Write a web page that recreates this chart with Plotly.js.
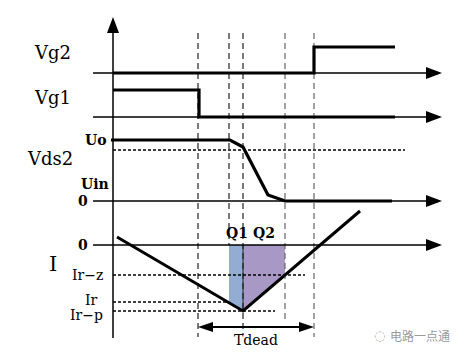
<!DOCTYPE html>
<html><head><meta charset="utf-8">
<script src="https://cdn.plot.ly/plotly-3.0.1.min.js"></script>
<style>html,body{margin:0;padding:0;background:#fff}#plot{width:465px;height:353px}</style>
</head><body><div id="plot"></div>
<script>
// ---- diagram data (diagram units = picture pixels) ----
const axisLevels = [73, 117, 201, 245];        // Vg2, Vg1, Vds2, I zero lines
const axisStartX = 93, axisTipX = 442;
const yAxisX = 113, yAxisTop = 17, yAxisBottom = 338;

const vg2X = [113, 314, 314, 395];
const vg2Y = [73, 73, 47, 47];
const vg1X = [113, 199, 199, 395];
const vg1Y = [90, 90, 117, 117];
const vdsX = [111, 230, 243, 268, 285, 392];
const vdsY = [140, 140, 147, 195, 201, 201];
const curX = [117, 243, 360];
const curY = [237, 311, 211];

const dotLevels = [150, 275, 302, 311];        // dotted reference levels
const dotEnds   = [405, 305, 229, 275];
const dashX   = [198, 229, 243, 285, 314];
const dashEnd = [337, 245, 335, 320, 337];
const dashCol = ['#222', '#222', '#222', '#666', '#666'];

const q1X = [229, 243, 243, 229];
const q1Y = [245, 245, 311, 302.8];
const q2X = [243, 285, 285, 243];
const q2Y = [245, 245, 275, 311];

const tdeadX = [198, 314], tdeadY = 327;

const labels = [
  {t:'Vg2', x:52, y:52, s:18, b:false},
  {t:'Vg1', x:52, y:97, s:18, b:false},
  {t:'Vds2', x:50, y:158, s:18, b:false},
  {t:'I', x:53, y:264, s:21, b:false},
  {t:'Uo', x:96, y:140, s:14, b:true},
  {t:'Uin', x:95, y:184, s:14, b:true},
  {t:'0', x:83, y:201, s:14, b:true},
  {t:'0', x:83, y:245, s:14, b:true},
  {t:'Ir\u2212z', x:87, y:275, s:14, b:false},
  {t:'Ir', x:91, y:300, s:14, b:false},
  {t:'Ir\u2212p', x:86, y:315, s:14, b:false},
  {t:'Q1', x:237, y:233, s:14, b:true},
  {t:'Q2', x:264, y:233, s:14, b:true},
  {t:'Tdead', x:256, y:340, s:14, b:false}
];

// ---- build traces ----
const traces = [];
function line(x, y, w, color, dash) {
  traces.push({type:'scatter', mode:'lines', x:x, y:y, hoverinfo:'skip',
    line:{color:color, width:w, dash:dash||'solid'}});
}
function poly(x, y, color) {
  traces.push({type:'scatter', mode:'lines', x:x.concat([x[0]]), y:y.concat([y[0]]),
    fill:'toself', fillcolor:color, hoverinfo:'skip', line:{width:0, color:color}});
}

// shaded areas
poly(q1X, q1Y, '#93acd2');
poly(q2X, q2Y, '#a898c5');

// dashed verticals
dashX.forEach((x, i) => line([x, x], [33, dashEnd[i]], 1.2, dashCol[i], '6px,4px'));
line([243, 243], [245, 311], 1, '#222');

// dotted reference levels
dotLevels.forEach((y, i) => line([yAxisX, dotEnds[i]], [y, y], 1.5, '#000', '3px,2px'));

// axes
line([yAxisX, yAxisX], [yAxisTop + 10, yAxisBottom], 1.5, '#000');
poly([yAxisX, yAxisX - 6, yAxisX + 6], [yAxisTop, yAxisTop + 16, yAxisTop + 16], '#000');
axisLevels.forEach(y => {
  line([axisStartX, axisTipX - 10], [y, y], 1.5, '#000');
  poly([axisTipX, axisTipX - 16, axisTipX - 16], [y, y - 6, y + 6], '#000');
});

// waveforms
line(vg2X, vg2Y, 3.2, '#000');
line(vg1X, vg1Y, 3.2, '#000');
line(vdsX, vdsY, 3.2, '#000');
line(curX, curY, 3, '#000');

// Tdead double arrow
line([tdeadX[0] + 8, tdeadX[1] - 8], [tdeadY, tdeadY], 1.8, '#000');
poly([tdeadX[0], tdeadX[0] + 15, tdeadX[0] + 15], [tdeadY, tdeadY - 5, tdeadY + 5], '#000');
poly([tdeadX[1], tdeadX[1] - 15, tdeadX[1] - 15], [tdeadY, tdeadY - 5, tdeadY + 5], '#000');

const annotations = labels.map(l => ({
  x:l.x, y:l.y, xref:'x', yref:'y', text: l.b ? '<b>' + l.t + '</b>' : l.t,
  showarrow:false, xanchor:'center', yanchor:'middle',
  font:{family:'DejaVu Serif, Liberation Serif, serif', size:l.s, color:'#000'}
}));
annotations.push({x:420, y:335, xref:'x', yref:'y', text:'电路一点通', showarrow:false,
  xanchor:'center', yanchor:'middle',
  font:{family:'Noto Sans CJK SC, sans-serif', size:12, color:'#9a9a9a'}});
annotations.push({x:379, y:335, xref:'x', yref:'y', text:'\u25CC', showarrow:false,
  xanchor:'center', yanchor:'middle', font:{family:'DejaVu Sans', size:13, color:'#aaa'}});

const layout = {
  width:465, height:353, margin:{l:0, r:0, t:0, b:0},
  paper_bgcolor:'#fff', plot_bgcolor:'#fff', showlegend:false, hovermode:false,
  xaxis:{range:[0, 465], visible:false, fixedrange:true},
  yaxis:{range:[353, 0], visible:false, fixedrange:true},
  annotations: annotations
};
Plotly.newPlot('plot', traces, layout, {staticPlot:true, displayModeBar:false});
</script></body></html>
